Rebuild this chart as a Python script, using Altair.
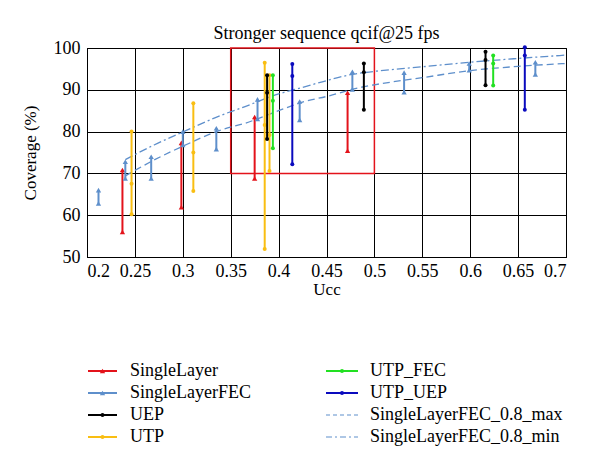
import altair as alt
import pandas as pd

FONT = "Liberation Serif"

# ---------------- data ----------------
series_names = ["SingleLayer", "SingleLayerFEC", "UEP", "UTP",
                "UTP_FEC", "UTP_UEP",
                "SingleLayerFEC_0.8_max", "SingleLayerFEC_0.8_min"]
series_colors = ["#E3131B", "#5E8FCB", "#000000", "#F9BE12",
                 "#22E022", "#0A0ABE", "#5E8FCB", "#5E8FCB"]

sl_x = [0.237, 0.2985, 0.375, 0.472]
sl_low = [56.0, 61.9, 68.8, 75.4]
sl_high = [70.8, 77.3, 83.5, 89.3]

slf_x = [0.212, 0.240, 0.267, 0.300, 0.335, 0.378, 0.422, 0.477, 0.531, 0.599, 0.668]
slf_low = [62.8, 68.8, 68.8, 76.8, 75.8, 83.0, 82.8, 90.1, 89.4, 94.7, 93.7]
slf_high = [66.0, 72.8, 74.0, 80.0, 80.8, 87.7, 87.2, 94.3, 94.1, 96.3, 96.6]

uep_x = [0.388, 0.489, 0.616]
uep_low = [78.2, 85.2, 91.1]
uep_mid = [89.3, 94.2, 97.1]
uep_high = [93.5, 96.3, 99.1]

utp_x = [0.2465, 0.311, 0.3855, 0.3905]
utp_low = [60.2, 65.8, 51.9, 70.6]
utp_mid = [67.5, 75.0, 81.6, 79.2]
utp_high = [80.0, 86.8, 96.5, 93.5]

utpfec_x = [0.394, 0.624]
utpfec_low = [76.0, 91.0]
utpfec_mid = [87.4, 96.3]
utpfec_high = [93.5, 98.2]

utpuep_x = [0.4143, 0.657]
utpuep_low = [72.2, 85.2]
utpuep_mid = [93.3, 98.2]
utpuep_high = [96.2, 100.2]

curve_max_x = [0.24, 0.27, 0.30, 0.34, 0.365, 0.40, 0.427, 0.45, 0.484, 0.50, 0.55, 0.60, 0.65, 0.70]
curve_max_y = [69.4, 73.2, 76.5, 80.4, 82.0, 85.0, 87.2, 88.4, 90.5, 91.2, 92.9, 94.6, 95.6, 96.3]
curve_min_x = [0.24, 0.27, 0.30, 0.34, 0.365, 0.40, 0.427, 0.45, 0.477, 0.50, 0.55, 0.60, 0.65, 0.70]
curve_min_y = [73.3, 76.8, 79.9, 83.9, 86.0, 89.0, 90.7, 92.2, 93.7, 94.4, 95.5, 96.6, 97.5, 98.3]

box_x = [0.35]
box_x2 = [0.5]
box_y = [70]
box_y2 = [100]

x_ticks = [0.2, 0.25, 0.3, 0.35, 0.4, 0.45, 0.5, 0.55, 0.6, 0.65, 0.7]
y_ticks = [50, 60, 70, 80, 90, 100]

# ---------------- tables ----------------
groups = [
    ("SingleLayer", sl_x, [sl_low, sl_high], "triangle-up"),
    ("SingleLayerFEC", slf_x, [slf_low, slf_high], "triangle-up"),
    ("UTP", utp_x, [utp_low, utp_mid, utp_high], "circle"),
    ("UEP", uep_x, [uep_low, uep_mid, uep_high], "circle"),
    ("UTP_FEC", utpfec_x, [utpfec_low, utpfec_mid, utpfec_high], "circle"),
    ("UTP_UEP", utpuep_x, [utpuep_low, utpuep_mid, utpuep_high], "circle"),
]

W, H = 479, 209
xs = alt.Scale(domain=[0.2, 0.7], nice=False, zero=False)
ys = alt.Scale(domain=[50, 100], nice=False, zero=False)
cs = alt.Scale(domain=series_names, range=series_colors)

xax = alt.Axis(values=x_ticks, format="~g", title="Ucc", grid=True)
yax = alt.Axis(values=y_ticks, title="Coverage (%)", grid=True)

layers = []

# red rectangle
box_df = pd.DataFrame({"x": box_x, "x2": box_x2, "y": box_y, "y2": box_y2})
layers.append(
    alt.Chart(box_df).mark_rect(fill=None, stroke="#E3131B", strokeWidth=1.5).encode(
        x=alt.X("x:Q", scale=xs, axis=xax), x2="x2:Q",
        y=alt.Y("y:Q", scale=ys, axis=yax), y2="y2:Q")
)

# fitted curves
cmax = pd.DataFrame({"x": curve_max_x, "y": curve_max_y, "s": "SingleLayerFEC_0.8_max"})
cmin = pd.DataFrame({"x": curve_min_x, "y": curve_min_y, "s": "SingleLayerFEC_0.8_min"})
for df, dash in [(cmax, [7, 4]), (cmin, [8, 3, 2, 3])]:
    layers.append(
        alt.Chart(df).mark_line(strokeWidth=1.3, strokeDash=dash, interpolate="monotone").encode(
            x=alt.X("x:Q", scale=xs), y=alt.Y("y:Q", scale=ys),
            color=alt.Color("s:N", scale=cs, legend=None))
    )

for name, gx, vals, shape in groups:
    rdf = pd.DataFrame({"x": gx, "lo": vals[0], "hi": vals[-1], "s": name})
    layers.append(
        alt.Chart(rdf).mark_rule(strokeWidth=2).encode(
            x=alt.X("x:Q", scale=xs), y=alt.Y("lo:Q", scale=ys), y2="hi:Q",
            color=alt.Color("s:N", scale=cs, legend=None))
    )
    rows = []
    for v in vals:
        for xi, yi in zip(gx, v):
            rows.append({"x": xi, "y": yi, "s": name})
    pdf = pd.DataFrame(rows)
    size = 28 if shape == "triangle-up" else 16
    layers.append(
        alt.Chart(pdf).mark_point(shape=shape, filled=True, size=size, opacity=1).encode(
            x=alt.X("x:Q", scale=xs), y=alt.Y("y:Q", scale=ys),
            color=alt.Color("s:N", scale=cs, legend=None))
    )

# manual legend (positions relative to the plot origin)
dummy = pd.DataFrame({"a": [0]})
col_line = [(1, 30), (239, 271)]
col_text = [43, 283]
row_y = [323, 345, 367, 389]
markers = ["triangle-up", "triangle-up", "circle", "circle", "circle", "circle", None, None]
dashes = [None] * 6 + [[4, 3], [6, 3, 2, 3]]
for i, name in enumerate(series_names):
    c, r = i // 4, i % 4
    x1, x2 = col_line[c]
    yy = row_y[r]
    col = series_colors[i]
    kw = {"strokeWidth": 2 if dashes[i] is None else 1.2, "color": col}
    if dashes[i] is not None:
        kw["strokeDash"] = dashes[i]
    layers.append(alt.Chart(dummy).mark_rule(**kw).encode(
        x=alt.value(x1), x2=alt.value(x2), y=alt.value(yy)))
    if markers[i] is not None:
        layers.append(alt.Chart(dummy).mark_point(
            shape=markers[i], filled=True, size=28 if markers[i] == "triangle-up" else 16,
            color=col, opacity=1).encode(x=alt.value((x1 + x2) / 2), y=alt.value(yy)))
    layers.append(alt.Chart(dummy).mark_text(
        align="left", baseline="middle", font=FONT, fontSize=18, color="black").encode(
        x=alt.value(col_text[c]), y=alt.value(yy), text=alt.value(name)))

chart = alt.layer(*layers).properties(
    width=W, height=H,
    title=alt.TitleParams("Stronger sequence qcif@25 fps", font=FONT, fontSize=18,
                          fontWeight="normal", color="black", anchor="middle",
                          frame="group", offset=-4),
    autosize=alt.AutoSizeParams(type="none"),
    padding={"left": 79, "top": 40, "right": 26, "bottom": 207},
).configure_view(stroke="black", strokeWidth=1).configure_axis(
    labelFont=FONT, labelFontSize=18, labelColor="black",
    titleFont=FONT, titleFontSize=17, titleFontWeight="normal", titleColor="black",
    ticks=False, domainColor="black", domainWidth=1,
    gridColor="black", gridOpacity=1, gridWidth=1,
).configure_axisX(labelPadding=5, titlePadding=1).configure_axisY(
    labelPadding=7, titlePadding=14)

chart.save("out.html", embed_options={"renderer": "svg", "actions": False})
